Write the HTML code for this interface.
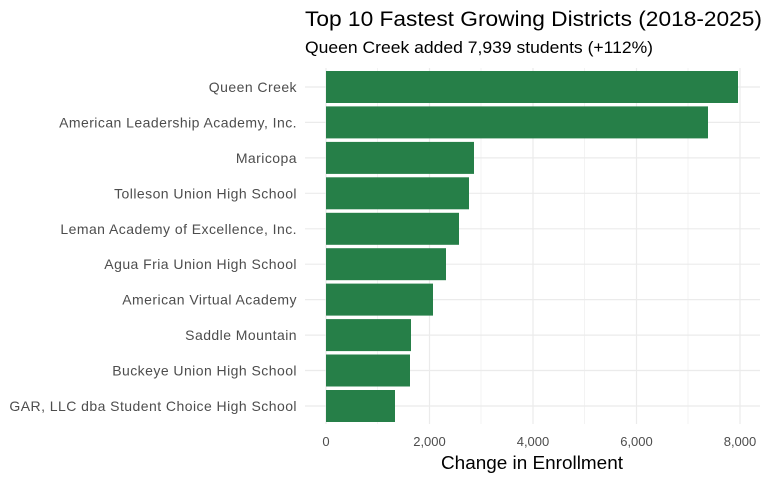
<!DOCTYPE html>
<html><head><style>body{margin:0;background:#fff}svg{display:block}text{font-family:"Liberation Sans",sans-serif}</style></head><body>
<svg width="768" height="480" xmlns="http://www.w3.org/2000/svg">
<rect width="768" height="480" fill="#fff"/>
<g stroke="#ebebeb">
<line x1="377.6" y1="68" x2="377.6" y2="424" stroke-width="0.6"/>
<line x1="481" y1="68" x2="481" y2="424" stroke-width="0.6"/>
<line x1="584.5" y1="68" x2="584.5" y2="424" stroke-width="0.6"/>
<line x1="688" y1="68" x2="688" y2="424" stroke-width="0.6"/>
<line x1="326" y1="68" x2="326" y2="424" stroke-width="1.2"/>
<line x1="429.5" y1="68" x2="429.5" y2="424" stroke-width="1.2"/>
<line x1="533" y1="68" x2="533" y2="424" stroke-width="1.2"/>
<line x1="636.5" y1="68" x2="636.5" y2="424" stroke-width="1.2"/>
<line x1="740" y1="68" x2="740" y2="424" stroke-width="1.2"/>
<g stroke-width="1.2">
<line x1="305" x2="760" y1="87" y2="87"/><line x1="305" x2="760" y1="122.4" y2="122.4"/>
<line x1="305" x2="760" y1="157.9" y2="157.9"/><line x1="305" x2="760" y1="193.3" y2="193.3"/>
<line x1="305" x2="760" y1="228.8" y2="228.8"/><line x1="305" x2="760" y1="264.2" y2="264.2"/>
<line x1="305" x2="760" y1="299.6" y2="299.6"/><line x1="305" x2="760" y1="335.1" y2="335.1"/>
<line x1="305" x2="760" y1="370.5" y2="370.5"/><line x1="305" x2="760" y1="406" y2="406"/>
</g></g>
<g fill="#267f48">
<rect x="326" y="71" width="412" height="32"/>
<rect x="326" y="106.4" width="382" height="32"/>
<rect x="326" y="141.9" width="148" height="32"/>
<rect x="326" y="177.3" width="143" height="32"/>
<rect x="326" y="212.8" width="133" height="32"/>
<rect x="326" y="248.2" width="120" height="32"/>
<rect x="326" y="283.6" width="107" height="32"/>
<rect x="326" y="319.1" width="85" height="32"/>
<rect x="326" y="354.5" width="84" height="32"/>
<rect x="326" y="390" width="69" height="32"/>
</g>
<g font-size="14" letter-spacing="0.45" fill="#4d4d4d" text-anchor="end">
<text x="297" y="92">Queen Creek</text>
<text x="297" y="127.4">American Leadership Academy, Inc.</text>
<text x="297" y="162.9">Maricopa</text>
<text x="297" y="198.3">Tolleson Union High School</text>
<text x="297" y="233.8">Leman Academy of Excellence, Inc.</text>
<text x="297" y="269.2">Agua Fria Union High School</text>
<text x="297" y="304.6">American Virtual Academy</text>
<text x="297" y="340.1">Saddle Mountain</text>
<text x="297" y="375.5">Buckeye Union High School</text>
<text x="297" y="411">GAR, LLC dba Student Choice High School</text>
</g>
<g font-size="13" fill="#4d4d4d" text-anchor="middle">
<text x="326" y="446">0</text><text x="429.5" y="446">2,000</text><text x="533" y="446">4,000</text><text x="636.5" y="446">6,000</text><text x="740" y="446">8,000</text>
</g>
<text x="441" y="469" font-size="18" textLength="182" lengthAdjust="spacingAndGlyphs" fill="#000">Change in Enrollment</text>
<text x="305" y="26" font-size="21" textLength="457" lengthAdjust="spacingAndGlyphs" fill="#000">Top 10 Fastest Growing Districts (2018-2025)</text>
<text x="305" y="53" font-size="16.5" textLength="348" lengthAdjust="spacingAndGlyphs" fill="#000">Queen Creek added 7,939 students (+112%)</text>
</svg>
</body></html>
